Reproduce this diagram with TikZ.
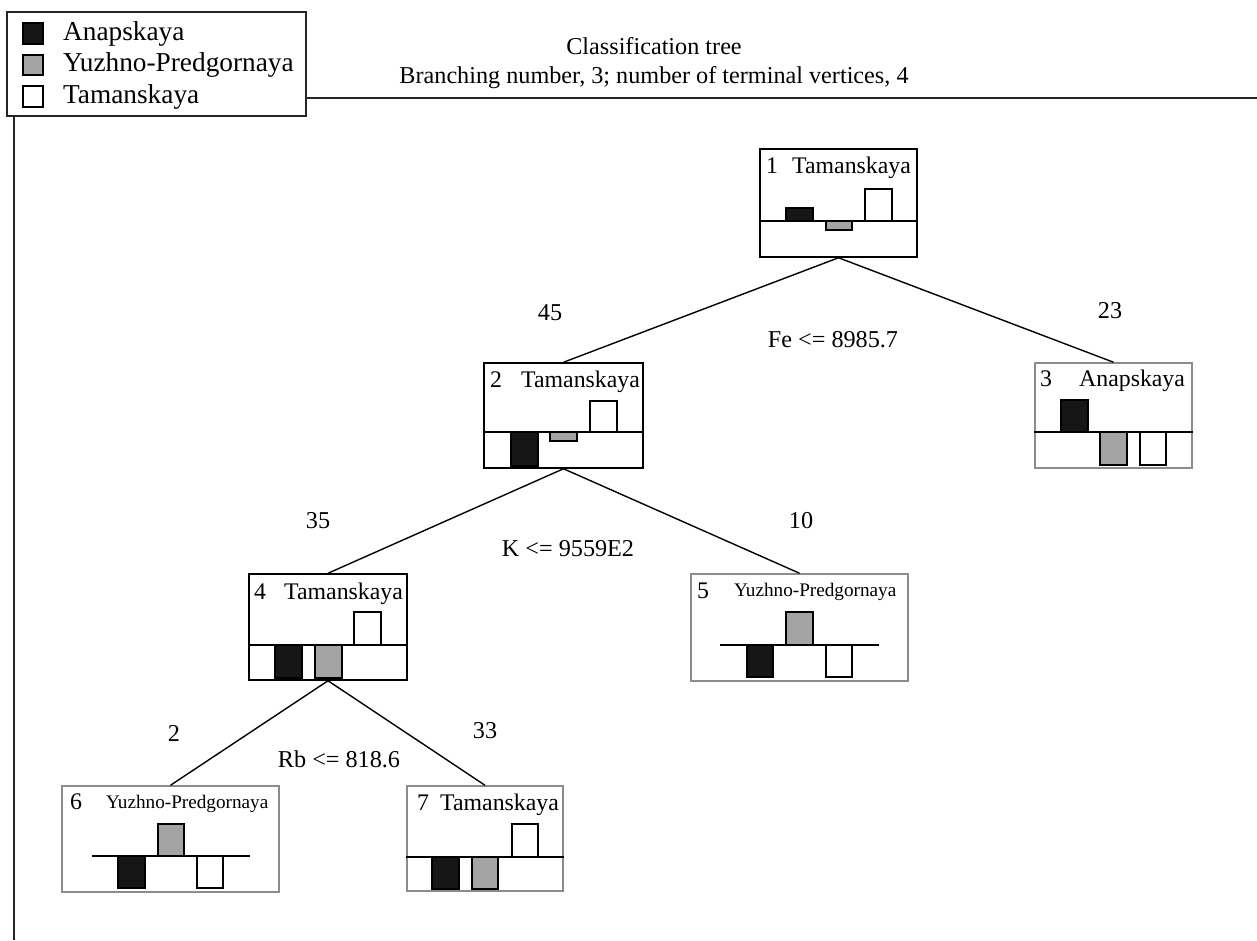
\documentclass[tikz,border=0pt]{standalone}
\usepackage{fontspec}
\setmainfont{Liberation Serif}
\newcommand\fmain{\fontsize{24.2pt}{28pt}\selectfont}
\newcommand\fnode{\fontsize{23.8pt}{28pt}\selectfont}
\newcommand\flegend{\fontsize{27.3pt}{30pt}\selectfont}
\newcommand\fsmall{\fontsize{19.2pt}{22pt}\selectfont}
\newcommand\mybar[5]{\draw[#1] (#2,#3) rectangle (#4,#5);}
\definecolor{bargray}{HTML}{A4A4A4}
\definecolor{barblack}{HTML}{161616}
\definecolor{termgray}{HTML}{8C8C8C}
\begin{document}
\begin{tikzpicture}[x=1pt,y=-1pt,
  intbox/.style={draw=black, line width=1.5pt, fill=white, rectangle, inner sep=0pt},
  termbox/.style={draw=termgray, line width=1.5pt, fill=white, rectangle, inner sep=0pt},
  conn/.style={draw=black, line width=1.4pt},
  frameline/.style={draw=black!85, line width=1.6pt},
  divline/.style={draw=black, line width=1.3pt},
  bk/.style={fill=barblack, draw=black, line width=1.1pt},
  gy/.style={fill=bargray, draw=black, line width=1.1pt},
  wh/.style={fill=white, draw=black, line width=1.1pt},
  ttl/.style={font=\fnode, inner sep=0pt, anchor=base west},
  sttl/.style={font=\fsmall, inner sep=0pt, anchor=base west},
  lbl/.style={font=\fmain, inner sep=0pt},
  leg/.style={font=\flegend, inner sep=0pt, anchor=west}]
\useasboundingbox (0,0) rectangle (1257,940);
\fill[white] (0,0) rectangle (1257,940);

% frame
\coordinate (fr1) at (306,98);
\coordinate (fr2) at (1257,98);
\coordinate (fl1) at (14,116);
\coordinate (fl2) at (14,940);
\draw[frameline] (fr1) -- (fr2);
\draw[frameline] (fl1) -- (fl2);

% legend
\node[draw=black!85, line width=1.5pt, fill=white, minimum width=299pt, minimum height=104pt, inner sep=0pt] (legend) at (156.5,64) {};
\mybar{bk}{23}{23}{43}{44}
\mybar{gy}{23}{55}{43}{75}
\mybar{wh}{23}{86}{43}{107}
\node[leg] (legA) at (63,33.5) {Anapskaya};
\node[leg] (legY) at (63,65) {Yuzhno-Predgornaya};
\node[leg] (legT) at (63,96.5) {Tamanskaya};

% titles
\node[lbl, anchor=base] (t1) at (654,54) {Classification tree};
\node[lbl, anchor=base] (t2) at (654,83) {Branching number, 3; number of terminal vertices, 4};

% tree nodes
\node[intbox, minimum width=157pt, minimum height=108pt] (n1) at (838.5,203) {};
\node[intbox, minimum width=159pt, minimum height=105pt] (n2) at (563.5,415.5) {};
\node[termbox, minimum width=157pt, minimum height=105pt] (n3) at (1113.5,415.5) {};
\node[intbox, minimum width=158pt, minimum height=106pt] (n4) at (328,627) {};
\node[termbox, minimum width=217pt, minimum height=107pt] (n5) at (799.5,627.5) {};
\node[termbox, minimum width=217pt, minimum height=106pt] (n6) at (170.5,839) {};
\node[termbox, minimum width=156pt, minimum height=105pt] (n7) at (485,838.5) {};

% connectors
\draw[conn] (n1.south) -- (n2.north);
\draw[conn] (n1.south) -- (n3.north);
\draw[conn] (n2.south) -- (n4.north);
\draw[conn] (n2.south) -- (n5.north);
\draw[conn] (n4.south) -- (n6.north);
\draw[conn] (n4.south) -- (n7.north);

% node 1
\node[ttl] (n1a) at (766,173) {1};
\node[ttl] (n1b) at (792,173) {Tamanskaya};
\draw[divline] (n1.west |- 0,221) -- (n1.east |- 0,221);
\mybar{bk}{786}{208}{813}{221}
\mybar{gy}{826}{221}{852}{230}
\mybar{wh}{865}{189}{892}{221}

% node 2
\node[ttl] (n2a) at (490,387) {2};
\node[ttl] (n2b) at (521,387) {Tamanskaya};
\draw[divline] (n2.west |- 0,432) -- (n2.east |- 0,432);
\mybar{bk}{511}{432}{538}{466}
\mybar{gy}{550}{432}{577}{441}
\mybar{wh}{590}{401}{617}{432}

% node 3
\node[ttl] (n3a) at (1040,386) {3};
\node[ttl] (n3b) at (1079,386) {Anapskaya};
\draw[divline] (n3.west |- 0,432) -- (n3.east |- 0,432);
\mybar{bk}{1061}{400}{1088}{432}
\mybar{gy}{1100}{432}{1127}{465}
\mybar{wh}{1140}{432}{1166}{465}

% node 4
\node[ttl] (n4a) at (254,599) {4};
\node[ttl] (n4b) at (284,599) {Tamanskaya};
\draw[divline] (n4.west |- 0,645) -- (n4.east |- 0,645);
\mybar{bk}{275}{645}{302}{678}
\mybar{gy}{315}{645}{342}{678}
\mybar{wh}{354}{612}{381}{645}

% node 5
\node[ttl] (n5a) at (697,598) {5};
\node[sttl] (n5b) at (734,596) {Yuzhno-Predgornaya};
\coordinate (n5l) at (720,645);
\coordinate (n5r) at (879,645);
\draw[divline] (n5l) -- (n5r);
\mybar{bk}{747}{645}{773}{677}
\mybar{gy}{786}{612}{813}{645}
\mybar{wh}{826}{645}{852}{677}

% node 6
\node[ttl] (n6a) at (70,809) {6};
\node[sttl] (n6b) at (106,808) {Yuzhno-Predgornaya};
\coordinate (n6l) at (92,856);
\coordinate (n6r) at (250,856);
\draw[divline] (n6l) -- (n6r);
\mybar{bk}{118}{856}{145}{888}
\mybar{gy}{158}{824}{184}{856}
\mybar{wh}{197}{856}{223}{888}

% node 7
\node[ttl] (n7a) at (417,810) {7};
\node[ttl] (n7b) at (440,810) {Tamanskaya};
\draw[divline] (n7.west |- 0,857) -- (n7.east |- 0,857);
\mybar{bk}{432}{857}{459}{889}
\mybar{gy}{472}{857}{498}{889}
\mybar{wh}{512}{824}{538}{857}

% edge labels
\node[lbl] (l45) at (550,313) {45};
\node[lbl] (l23) at (1110,311) {23};
\node[lbl] (lfe) at (833,340) {Fe <= 8985.7};
\node[lbl] (l35) at (318,521) {35};
\node[lbl] (l10) at (801,521) {10};
\node[lbl] (lk) at (568,549) {K <= 9559E2};
\node[lbl] (l2) at (174,733) {2};
\node[lbl] (l33) at (485,731) {33};
\node[lbl] (lrb) at (339,759) {Rb <= 818.6};
\end{tikzpicture}
\end{document}
